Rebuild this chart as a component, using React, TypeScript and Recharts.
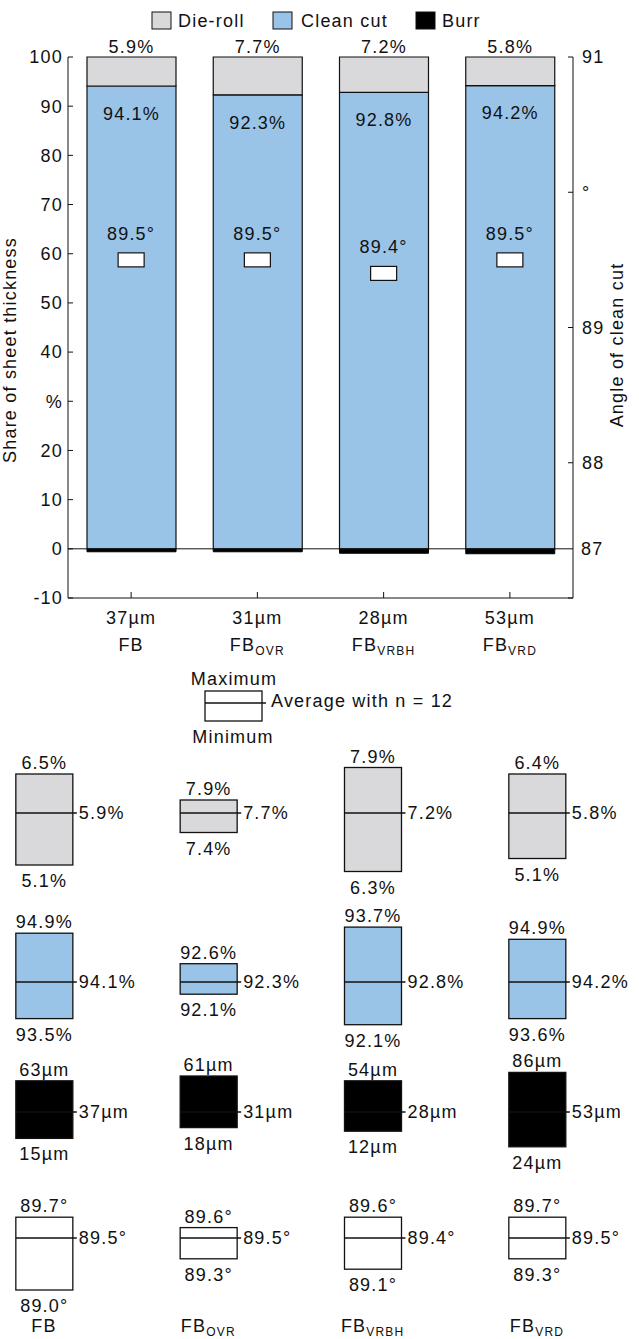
import React from "react";
import {
  ComposedChart,
  Bar,
  Scatter,
  XAxis,
  YAxis,
  ReferenceLine,
  LabelList,
} from "recharts";

const FONT = '"Liberation Sans", Arial, Helvetica, sans-serif';
const INK = "#111";
const DIE = "#d9d9db";
const CLEAN = "#99c4e8";

// process variants (base name + subscript)
const variants = ["FB", "FB_OVR", "FB_VRBH", "FB_VRD"];
const variantSub = ["", "OVR", "VRBH", "VRD"];

// averages, n = 12
const burrHeight = [37, 31, 28, 53];
const dieRollShare = [5.9, 7.7, 7.2, 5.8];
const cleanCutShare = [94.1, 92.3, 92.8, 94.2];
const burrShare = [-0.6, -0.6, -0.9, -1.0];
const cutAngle = [89.5, 89.5, 89.4, 89.5];

// spread of the 12 parts
const dieRollMax = [6.5, 7.9, 7.9, 6.4];
const dieRollMin = [5.1, 7.4, 6.3, 5.1];
const cleanCutMax = [94.9, 92.6, 93.7, 94.9];
const cleanCutMin = [93.5, 92.1, 92.1, 93.6];
const burrMax = [63, 61, 54, 86];
const burrMin = [15, 18, 12, 24];
const angleMax = [89.7, 89.6, 89.6, 89.7];
const angleMin = [89.0, 89.3, 89.1, 89.3];

const shareTicks = [-10, 0, 10, 20, 30, 40, 50, 60, 70, 80, 90, 100];
const angleTicks = [87, 88, 89, 90, 91];

const topData = variants.map((name, i) => ({
  name,
  burr: burrShare[i],
  clean: cleanCutShare[i],
  die: dieRollShare[i],
  angle: cutAngle[i],
}));

function VariantName({ x, y, i }: any) {
  return (
    <text x={x} y={y} textAnchor="middle" fontSize={18} fill={INK}>
      FB
      {variantSub[i] ? (
        <tspan fontSize={12} dy={4}>
          {variantSub[i]}
        </tspan>
      ) : null}
    </text>
  );
}

const TopTick = (props: any) => {
  const { x, y, payload } = props;
  const i = variants.indexOf(payload.value);
  return (
    <g>
      <text x={x} y={y + 26} textAnchor="middle" fontSize={18} fill={INK}>
        {burrHeight[i]}µm
      </text>
      <VariantName x={x} y={y + 53} i={i} />
    </g>
  );
};

const AngleMarker = (props: any) => {
  const { cx, cy, payload } = props;
  return (
    <g>
      <text x={cx} y={cy - 20} textAnchor="middle" fontSize={18} fill={INK}>
        {payload.angle.toFixed(1)}°
      </text>
      <rect x={cx - 13} y={cy - 7} width={26} height={14} fill="#fff" stroke={INK} strokeWidth={1.2} />
    </g>
  );
};

type Row = {
  top: number;
  bottom: number;
  avgY: number;
  pxPerUnit: number;
  fill: string;
  mins: number[];
  avgs: number[];
  maxs: number[];
  unit: string;
  names?: boolean;
};

const rows: Row[] = [
  { top: 745, bottom: 900, avgY: 813, pxPerUnit: 65, fill: DIE, mins: dieRollMin, avgs: dieRollShare, maxs: dieRollMax, unit: "%" },
  { top: 905, bottom: 1052, avgY: 982, pxPerUnit: 61, fill: CLEAN, mins: cleanCutMin, avgs: cleanCutShare, maxs: cleanCutMax, unit: "%" },
  { top: 1052, bottom: 1176, avgY: 1112, pxPerUnit: 1.2, fill: "#000", mins: burrMin, avgs: burrHeight, maxs: burrMax, unit: "µm" },
  { top: 1178, bottom: 1339, avgY: 1238, pxPerUnit: 104, fill: "#fff", mins: angleMin, avgs: cutAngle, maxs: angleMax, unit: "°", names: true },
];

const fmt = (v: number, unit: string) => (unit === "µm" ? `${v}µm` : `${v.toFixed(1)}${unit}`);

const BoxShape = (props: any) => {
  const { x, y, width, height, payload, row } = props;
  const top = Math.min(y, y + height);
  const h = Math.abs(height);
  const { min, avg, max } = payload;
  const ay = top + (h * (max - avg)) / (max - min);
  const cx = x + width / 2;
  return (
    <g>
      <rect x={x} y={top} width={width} height={h} fill={row.fill} stroke={INK} strokeWidth={1.3} />
      <line x1={x} x2={x + width + 4} y1={ay} y2={ay} stroke={INK} strokeWidth={1.3} />
      <text x={x + width + 6} y={ay} dominantBaseline="central" fontSize={18} fill={INK}>
        {fmt(avg, row.unit)}
      </text>
      <text x={cx} y={top - 11} dominantBaseline="central" textAnchor="middle" fontSize={18} fill={INK}>
        {fmt(max, row.unit)}
      </text>
      <text x={cx} y={top + h + 16} dominantBaseline="central" textAnchor="middle" fontSize={18} fill={INK}>
        {fmt(min, row.unit)}
      </text>
    </g>
  );
};

const firstCenter = 44;
const step = 164.33;
const xDomain = [-firstCenter / step, (639 - firstCenter) / step];

function BoxRow({ row }: { row: Row }) {
  const height = row.bottom - row.top;
  const axisH = row.names ? 30 : 0;
  const plotBottom = row.bottom - axisH;
  const hi = (row.avgY - row.top) / row.pxPerUnit;
  const lo = (row.avgY - plotBottom) / row.pxPerUnit;
  const data = variants.map((name, i) => ({
    idx: i,
    name,
    min: row.mins[i],
    avg: row.avgs[i],
    max: row.maxs[i],
    range: [row.mins[i] - row.avgs[i], row.maxs[i] - row.avgs[i]],
  }));
  return (
    <div style={{ position: "absolute", left: 0, top: row.top }}>
      <ComposedChart
        width={639}
        height={height}
        data={data}
        margin={{ top: 0, right: 0, bottom: 0, left: 0 }}
        style={{ overflow: "visible" }}
      >
        <XAxis
          type="number"
          dataKey="idx"
          domain={xDomain}
          ticks={[0, 1, 2, 3]}
          hide={!row.names}
          height={axisH}
          axisLine={false}
          tickLine={false}
          tickSize={0}
          tickMargin={0}
          interval={0}
          tick={(p: any) => <VariantName x={p.x} y={p.y + 23} i={p.payload.value} />}
        />
        <YAxis hide domain={[lo, hi]} />
        <Bar
          dataKey="range"
          barSize={57}
          isAnimationActive={false}
          shape={(p: any) => <BoxShape {...p} row={row} />}
        />
      </ComposedChart>
    </div>
  );
}

export default function App() {
  return (
    <div
      style={{
        position: "absolute",
        left: 0,
        top: 0,
        width: 639,
        height: 1339,
        background: "#fff",
        fontFamily: FONT,
        letterSpacing: "1.2px",
      }}
    >
      <div style={{ position: "absolute", left: 0, top: 0 }}>
        <ComposedChart
          width={639}
          height={660}
          data={topData}
          stackOffset="sign"
          margin={{ top: 57, right: 0, bottom: 0, left: 0 }}
        >
          <XAxis
            dataKey="name"
            height={62}
            interval={0}
            tick={<TopTick />}
            tickSize={-6}
            tickMargin={6}
            axisLine={{ stroke: INK }}
            tickLine={{ stroke: INK }}
          />
          <YAxis
            yAxisId="share"
            width={68}
            domain={[-10, 100]}
            ticks={shareTicks}
            interval={0}
            tickFormatter={(v: number) => (v === 30 ? "%" : String(v))}
            tickSize={-5}
            tickMargin={10}
            tick={{ fontSize: 18, fill: INK }}
            axisLine={{ stroke: INK }}
            tickLine={{ stroke: INK }}
          />
          <YAxis
            yAxisId="angle"
            orientation="right"
            width={66}
            domain={[87, 91]}
            ticks={angleTicks}
            interval={0}
            tickFormatter={(v: number) => (v === 90 ? "°" : v === 87 ? "" : String(v))}
            tickSize={-5}
            tickMargin={14}
            tick={{ fontSize: 18, fill: INK }}
            axisLine={{ stroke: INK }}
            tickLine={{ stroke: INK }}
          />
          <ReferenceLine
            yAxisId="share"
            y={0}
            stroke={INK}
            label={{ value: "87", position: "right", offset: 8, fontSize: 18, fill: INK }}
          />
          <Bar yAxisId="share" dataKey="burr" stackId="s" barSize={89} fill="#000" stroke="#000" isAnimationActive={false} />
          <Bar yAxisId="share" dataKey="clean" stackId="s" barSize={89} fill={CLEAN} stroke={INK} strokeWidth={1.2} isAnimationActive={false}>
            <LabelList dataKey="clean" position="insideTop" offset={21} formatter={(v: any) => `${v}%`} fontSize={18} fill={INK} />
          </Bar>
          <Bar yAxisId="share" dataKey="die" stackId="s" barSize={89} fill={DIE} stroke={INK} strokeWidth={1.2} isAnimationActive={false}>
            <LabelList dataKey="die" position="top" offset={4} formatter={(v: any) => `${v}%`} fontSize={18} fill={INK} />
          </Bar>
          <Scatter yAxisId="angle" dataKey="angle" shape={<AngleMarker />} isAnimationActive={false} />
        </ComposedChart>
      </div>

      {rows.map((row, i) => (
        <BoxRow key={i} row={row} />
      ))}

      <svg
        width={639}
        height={760}
        style={{ position: "absolute", left: 0, top: 0, pointerEvents: "none" }}
      >
        {/* legend */}
        <rect x={152} y={12} width={19} height={17} fill={DIE} stroke={INK} />
        <text x={178} y={20.5} dominantBaseline="central" fontSize={18} fill={INK}>Die-roll</text>
        <rect x={273} y={12} width={19} height={17} fill={CLEAN} stroke={INK} />
        <text x={301} y={20.5} dominantBaseline="central" fontSize={18} fill={INK}>Clean cut</text>
        <rect x={416} y={12} width={19} height={17} fill="#000" stroke={INK} />
        <text x={442} y={20.5} dominantBaseline="central" fontSize={18} fill={INK}>Burr</text>

        {/* axis titles */}
        <text
          x={10}
          y={350}
          transform="rotate(-90 10 350)"
          textAnchor="middle"
          dominantBaseline="central"
          fontSize={18}
          fill={INK}
        >
          Share of sheet thickness
        </text>
        <text
          x={617}
          y={345}
          transform="rotate(-90 617 345)"
          textAnchor="middle"
          dominantBaseline="central"
          fontSize={18}
          fill={INK}
        >
          Angle of clean cut
        </text>

        {/* box key */}
        <text x={234} y={679} textAnchor="middle" dominantBaseline="central" fontSize={18} fill={INK}>Maximum</text>
        <rect x={205} y={691} width={57} height={30} fill="#fff" stroke={INK} strokeWidth={1.3} />
        <line x1={205} x2={266} y1={703} y2={703} stroke={INK} strokeWidth={1.3} />
        <text x={271} y={701} dominantBaseline="central" fontSize={18} fill={INK}>Average with n = 12</text>
        <text x={233} y={737} textAnchor="middle" dominantBaseline="central" fontSize={18} fill={INK}>Minimum</text>
      </svg>
    </div>
  );
}
